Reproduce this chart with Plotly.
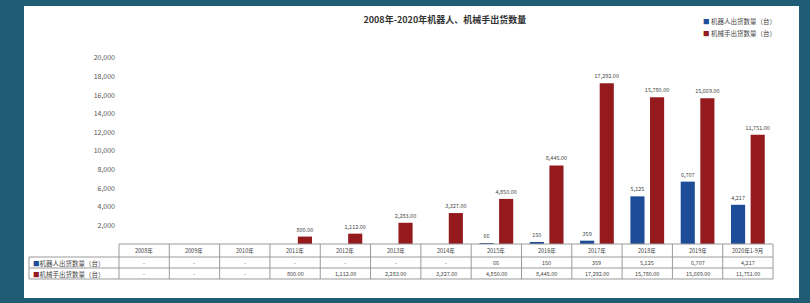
import plotly.graph_objects as go

# ---------------- data ----------------
categories = ["2008年", "2009年", "2010年", "2011年", "2012年", "2013年", "2014年",
              "2015年", "2016年", "2017年", "2018年", "2019年", "2020年1-9月"]
robot_units = [None, None, None, None, None, None, None, 66, 150, 359, 5125, 6707, 4217]
arm_units = [None, None, None, 800, 1112, 2283, 3327, 4850, 8445, 17292, 15780, 15669, 11751]
y_tick_values = [2000, 4000, 6000, 8000, 10000, 12000, 14000, 16000, 18000, 20000]
y_tick_labels = ["2,000", "4,000", "6,000", "8,000", "10,000", "12,000", "14,000",
                 "16,000", "18,000", "20,000"]
series_names = ["机器人出货数量（台）", "机械手出货数量（台）"]
title_text = "2008年-2020年机器人、机械手出货数量"

# ---------------- style / layout ----------------
BG = "#1e5d73"
BLUE = "#1d4c98"
RED = "#951a1e"
TXT = "#454545"
GRID = "#9a9a9a"
FONT = "Noto Sans CJK SC"

X_DOM = [0.1226, 0.9665]
Y_DOM = [0.1849, 0.8219]
TABLE_LEFT = 0.00645
# table row boundaries (paper y): top of header, header/row1, row1/row2, bottom
ROW_EDGES = [0.1849, 0.1404, 0.1027, 0.0651]


def fmt_robot(v):
    return "-" if v is None else f"{v:,}"


def fmt_arm(v):
    return "-" if v is None else f"{v:,.2f}"


fig = go.Figure()

fig.add_trace(go.Bar(
    x=categories, y=robot_units, name=series_names[0],
    marker=dict(color=BLUE, line=dict(width=0)),
    text=[None if v is None else fmt_robot(v) for v in robot_units],
    textposition="outside", constraintext="none",
    textfont=dict(size=5.5, color=TXT, family=FONT),
    cliponaxis=False, showlegend=False,
))
fig.add_trace(go.Bar(
    x=categories, y=arm_units, name=series_names[1],
    marker=dict(color=RED, line=dict(width=0)),
    text=[None if v is None else fmt_arm(v) for v in arm_units],
    textposition="outside", constraintext="none",
    textfont=dict(size=5.5, color=TXT, family=FONT),
    cliponaxis=False, showlegend=False,
))

# white panel
fig.add_shape(type="rect", xref="paper", yref="paper", x0=0, x1=1, y0=0, y1=1,
              fillcolor="white", line=dict(width=0), layer="below")

# ---------------- data table ----------------
n = len(categories)
col_w = (X_DOM[1] - X_DOM[0]) / n
line_style = dict(color=GRID, width=1)

# horizontal rules
fig.add_shape(type="line", xref="paper", yref="paper", x0=X_DOM[0], x1=X_DOM[1],
              y0=ROW_EDGES[0], y1=ROW_EDGES[0], line=line_style)
for ye in ROW_EDGES[1:]:
    fig.add_shape(type="line", xref="paper", yref="paper", x0=TABLE_LEFT, x1=X_DOM[1],
                  y0=ye, y1=ye, line=line_style)
# vertical rules at category boundaries
for k in range(n + 1):
    xk = X_DOM[0] + k * col_w
    fig.add_shape(type="line", xref="paper", yref="paper", x0=xk, x1=xk,
                  y0=ROW_EDGES[3], y1=ROW_EDGES[0], line=line_style)
fig.add_shape(type="line", xref="paper", yref="paper", x0=TABLE_LEFT, x1=TABLE_LEFT,
              y0=ROW_EDGES[3], y1=ROW_EDGES[1], line=line_style)

hdr_y = (ROW_EDGES[0] + ROW_EDGES[1]) / 2
row_y = [(ROW_EDGES[1] + ROW_EDGES[2]) / 2, (ROW_EDGES[2] + ROW_EDGES[3]) / 2]

for cat, r, a in zip(categories, robot_units, arm_units):
    fig.add_annotation(xref="x", yref="paper", x=cat, y=hdr_y, text=cat, showarrow=False,
                       xanchor="center", yanchor="middle",
                       font=dict(size=5.5, color=TXT, family=FONT))
    fig.add_annotation(xref="x", yref="paper", x=cat, y=row_y[0], text=fmt_robot(r),
                       showarrow=False, xanchor="center", yanchor="middle",
                       font=dict(size=5.5, color=TXT, family=FONT))
    fig.add_annotation(xref="x", yref="paper", x=cat, y=row_y[1], text=fmt_arm(a),
                       showarrow=False, xanchor="center", yanchor="middle",
                       font=dict(size=5.5, color=TXT, family=FONT))

for name, col, yy in zip(series_names, [BLUE, RED], row_y):
    fig.add_annotation(xref="paper", yref="paper", x=TABLE_LEFT + 0.002, y=yy,
                       xanchor="left", yanchor="middle",
                       text=f"<span style='color:{col}'>■</span>{name}", showarrow=False,
                       font=dict(size=6.5, color=TXT, family=FONT))

# ---------------- legend (as text entries) ----------------
for name, col, yy in zip(series_names, [BLUE, RED], [0.95, 0.909]):
    fig.add_annotation(xref="paper", yref="paper", x=0.874, y=yy, xanchor="left",
                       yanchor="middle", text=f"<span style='color:{col}'>■</span> {name}",
                       showarrow=False, font=dict(size=6.5, color=TXT, family=FONT))

fig.update_layout(
    width=810, height=303,
    margin=dict(l=24, r=11, t=6, b=5, autoexpand=False),
    paper_bgcolor=BG, plot_bgcolor="white",
    barmode="group", bargap=0.22, bargroupgap=0.28,
    title=dict(text=f"<b>{title_text}</b>", xref="paper", x=0.543, xanchor="center",
               yref="container", y=0.934, yanchor="middle",
               font=dict(size=9, color="#333333", family=FONT)),
    font=dict(family=FONT, color=TXT),
    xaxis=dict(domain=X_DOM, range=[-0.5, n - 0.5], showticklabels=False, showgrid=False,
               zeroline=False, showline=False, ticks="", automargin=False),
    yaxis=dict(domain=Y_DOM, range=[0, 20000], tickvals=y_tick_values,
               ticktext=y_tick_labels, showgrid=False, zeroline=False, showline=False,
               tickfont=dict(size=7, color="#555555", family=FONT),
               ticklabelstandoff=3, automargin=False),
)

fig.write_html("out.html", post_script="document.body.style.margin='0';",
               config={"displayModeBar": False})
